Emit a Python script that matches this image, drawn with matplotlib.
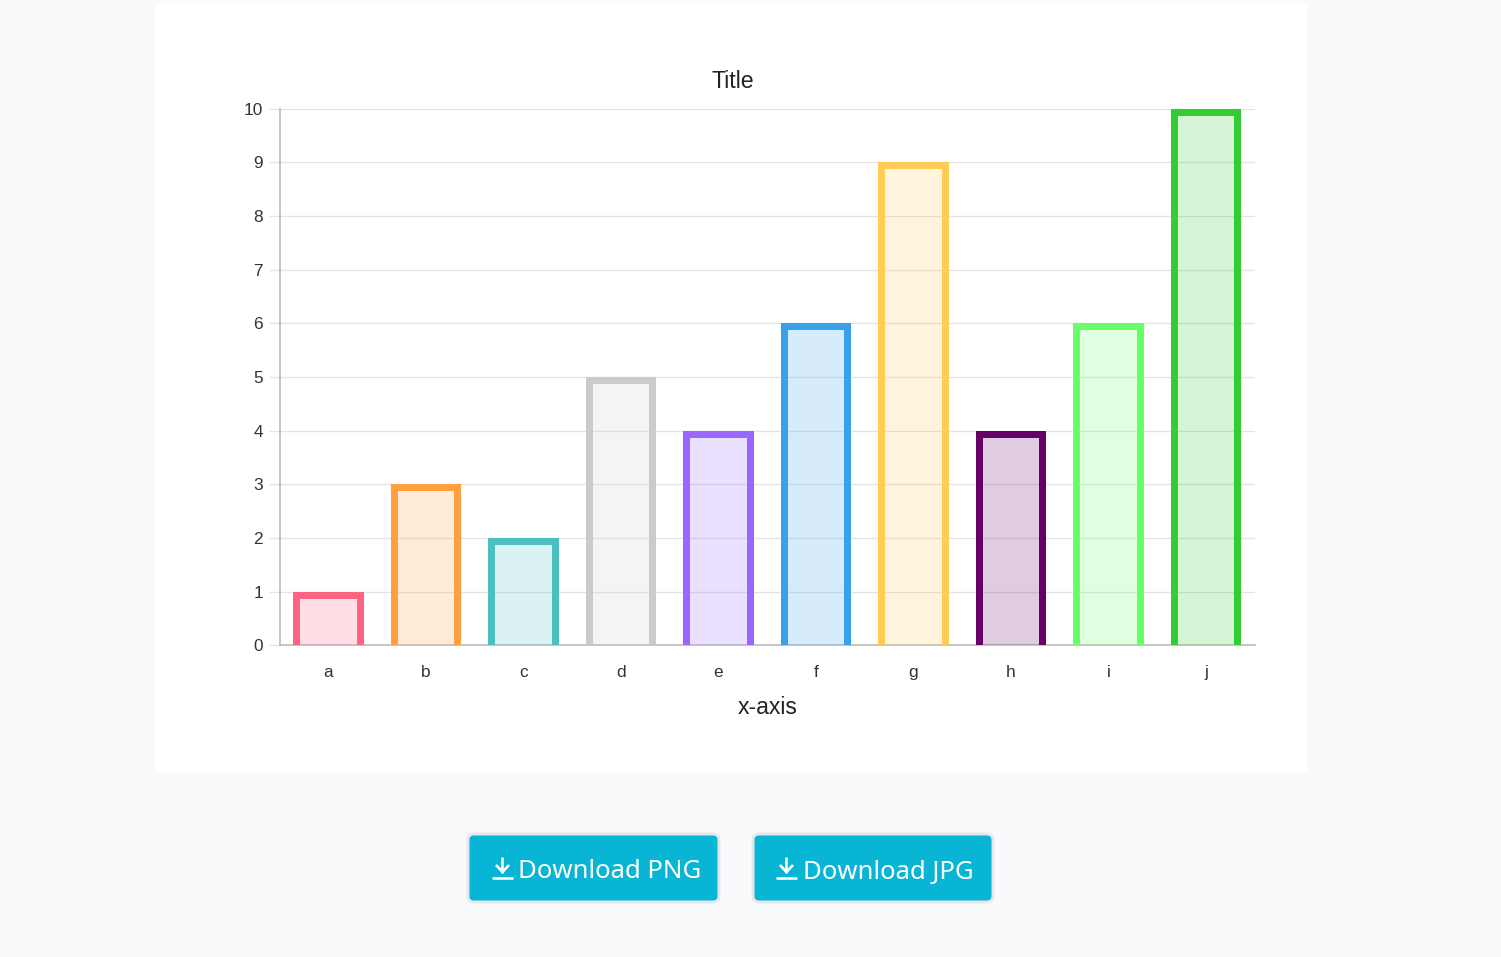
import matplotlib
matplotlib.use("Agg")
import matplotlib.pyplot as plt
from matplotlib.patches import Rectangle, FancyBboxPatch
from matplotlib.lines import Line2D
from matplotlib.colors import to_rgba

categories = ["a", "b", "c", "d", "e", "f", "g", "h", "i", "j"]
values = [1, 3, 2, 5, 4, 6, 9, 4, 6, 10]
colors = ["#ff6384", "#ff9f40", "#4bc0c0", "#c9cbcf", "#9966ff",
          "#36a2eb", "#ffcd56", "#660066", "#66ff66", "#33cc33"]
yticks = list(range(0, 11))
title = "Title"
xlabel = "x-axis"
button_labels = ["Download PNG", "Download JPG"]

W, H = 1501, 957
DPI = 100
PX = 72 / DPI
plt.rcParams["font.family"] = ["Liberation Sans", "DejaVu Sans"]

fig = plt.figure(figsize=(W / DPI, H / DPI), dpi=DPI, facecolor="#f9fafc")


def fx(x):
    return x / W


def fy(y):
    return 1 - y / H


fig.add_artist(Rectangle((fx(155), fy(772)), (1307 - 155) / W, (772 - 3) / H,
                         transform=fig.transFigure, facecolor="white", edgecolor="none",
                         zorder=-5))

L, R, T, B = 279.8, 1254.8, 108.8, 645.3
ax = fig.add_axes([fx(L), fy(B), (R - L) / W, (B - T) / H])
ax.patch.set_alpha(0)
ax.set_xlim(-0.5, len(categories) - 0.5)
ax.set_ylim(0, 10)
for s in ["top", "right"]:
    ax.spines[s].set_visible(False)
for s in ["left", "bottom"]:
    ax.spines[s].set_color("#b5b5b5")
    ax.spines[s].set_linewidth(1.5 * PX)

ax.set_axisbelow(True)
ax.set_yticks(yticks)
ax.yaxis.grid(True, color="#e3e3e3", linewidth=1.3 * PX)
ax.tick_params(axis="y", length=11 * PX, width=1.3 * PX, color="#e3e3e3",
               pad=4.0, labelsize=12.4, labelcolor="#333333")
ax.tick_params(axis="x", length=0, pad=20 * PX, labelsize=12.4, labelcolor="#333333")
ax.set_xticks(range(len(categories)))
ax.set_xticklabels(categories)

bar_width = 0.72
border_px = 7
for i, (v, c) in enumerate(zip(values, colors)):
    bars = ax.bar(i, v, width=bar_width, facecolor=to_rgba(c, 0.2), edgecolor="none", zorder=3)
    x0, x1 = i - bar_width / 2, i + bar_width / 2
    line = Line2D([x0, x0, x1, x1], [0, v, v, 0], color=c, linewidth=2 * border_px * PX,
                  solid_joinstyle="miter", solid_capstyle="butt", zorder=4)
    ax.add_line(line)
    line.set_clip_path(bars[0])

fig.text(fx(733), fy(82), title, fontsize=16.7, color="#222222", ha="center", va="center")
fig.text(fx(767.5), fy(708), xlabel, fontsize=16.6, color="#222222", ha="center", va="center")

btn_color = "#08b5d5"
halo = "#e5e7eb"
buttons = [(468, 719, 494, 518), (753, 993, 778, 803)]
top, bottom = 834, 902
pixel = fig.dpi_scale_trans  # inches
for (bx0, bx1, icon_x, text_x), label in zip(buttons, button_labels):
    fig.add_artist(FancyBboxPatch((bx0 / DPI, (H - bottom) / DPI), (bx1 - bx0) / DPI, (bottom - top) / DPI,
                                  boxstyle=f"round,pad=0,rounding_size={6 / DPI}",
                                  transform=pixel, facecolor=btn_color, edgecolor=halo,
                                  linewidth=3 * PX))
    fig.text(fx(text_x), fy(872), label, fontsize=18.5, color="white", ha="left", va="center",
             family=["Noto Sans", "DejaVu Sans"])
    for xs, ys in [([icon_x - 2, icon_x + 19], [878, 878]),
                   ([icon_x + 8.5, icon_x + 8.5], [857, 873]),
                   ([icon_x + 2, icon_x + 8.5, icon_x + 15], [865, 872, 865])]:
        fig.add_artist(Line2D([fx(x) for x in xs], [fy(y) for y in ys], color="white",
                              linewidth=2.6 * PX, transform=fig.transFigure,
                              solid_capstyle="butt", solid_joinstyle="miter"))

fig.savefig("out.png", dpi=DPI, facecolor=fig.get_facecolor())
